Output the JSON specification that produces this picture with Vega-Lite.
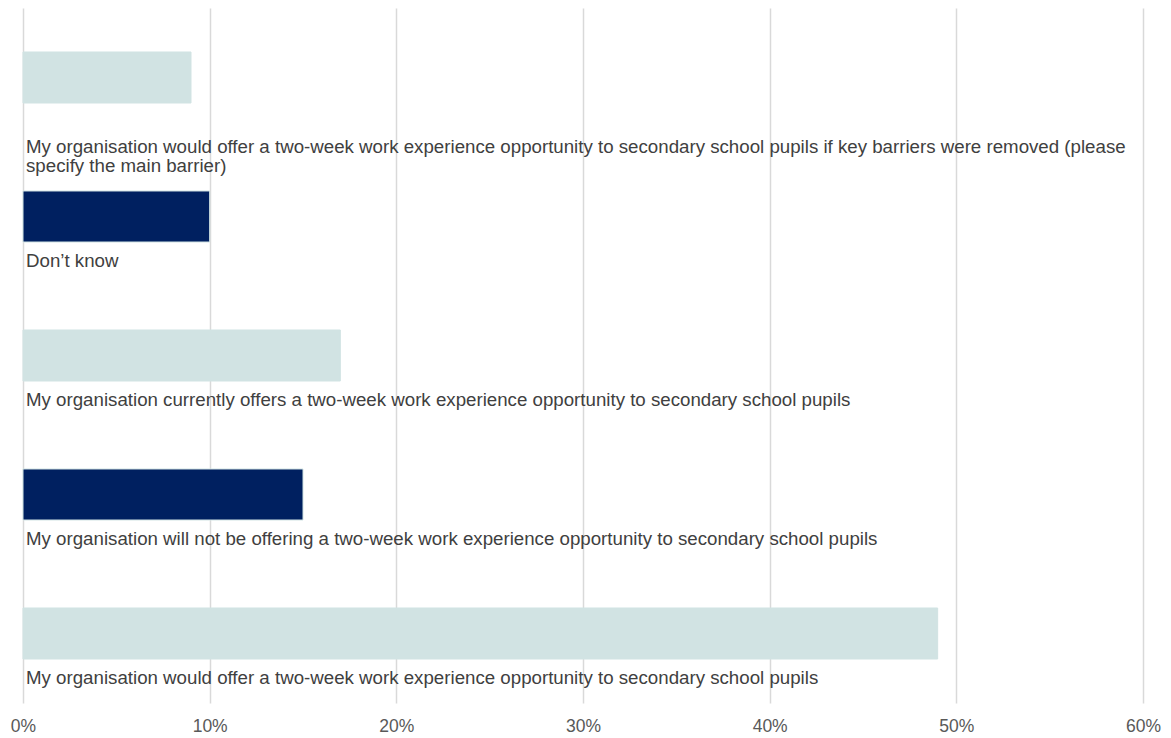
{
  "$schema": "https://vega.github.io/schema/vega-lite/v6.json",
  "width": 1120,
  "height": 695,
  "autosize": {"type": "none"},
  "padding": {"left": 23, "top": 8, "right": 28, "bottom": 35},
  "background": "white",
  "config": {
    "view": {"stroke": null},
    "font": "Liberation Sans"
  },
  "data": {
    "values": [
      {"label": "My organisation would offer a two-week work experience opportunity to secondary school pupils if key barriers were removed (please\nspecify the main barrier)", "value": 0.09, "shade": "light", "wrapped": true},
      {"label": "Don’t know", "value": 0.10, "shade": "dark", "wrapped": false},
      {"label": "\u00a0My organisation currently offers a two-week work experience opportunity to secondary school pupils", "value": 0.17, "shade": "light", "wrapped": false},
      {"label": "My organisation will not be offering a two-week work experience opportunity to secondary school pupils", "value": 0.15, "shade": "dark", "wrapped": false},
      {"label": "My organisation would offer a two-week work experience opportunity to secondary school pupils", "value": 0.49, "shade": "light", "wrapped": false}
    ]
  },
  "encoding": {
    "y": {
      "field": "label",
      "type": "nominal",
      "sort": null,
      "axis": null,
      "scale": {"paddingInner": 0.633, "paddingOuter": 0.3165}
    }
  },
  "layer": [
    {
      "mark": {"type": "bar", "stroke": "#D1E3E3", "strokeWidth": 1},
      "encoding": {
        "x": {
          "field": "value",
          "type": "quantitative",
          "scale": {"domain": [0, 0.6], "nice": false},
          "axis": {
            "title": null,
            "format": ".0%",
            "values": [0, 0.1, 0.2, 0.3, 0.4, 0.5, 0.6],
            "domain": false,
            "ticks": false,
            "grid": true,
            "gridColor": "#D9D9D9",
            "gridWidth": 1.5,
            "labelFlush": false,
            "labelFont": "Liberation Sans",
            "labelFontSize": 17.5,
            "labelColor": "#595959",
            "labelPadding": 14
          }
        },
        "color": {
          "field": "shade",
          "type": "nominal",
          "scale": {"domain": ["light", "dark"], "range": ["#D1E3E3", "#002060"]},
          "legend": null
        }
      }
    },
    {
      "transform": [{"filter": "!datum.wrapped"}],
      "mark": {"type": "text", "align": "left", "baseline": "middle", "dx": 3, "dy": 44, "fontSize": 18.7, "color": "#404040", "font": "Liberation Sans"},
      "encoding": {
        "x": {"datum": 0, "type": "quantitative"},
        "text": {"field": "label"}
      }
    },
    {
      "transform": [{"filter": "datum.wrapped"}],
      "mark": {"type": "text", "align": "left", "baseline": "middle", "lineBreak": "\n", "lineHeight": 19, "dx": 3, "dy": 69, "fontSize": 18.7, "color": "#404040", "font": "Liberation Sans"},
      "encoding": {
        "x": {"datum": 0, "type": "quantitative"},
        "text": {"field": "label"}
      }
    }
  ]
}
